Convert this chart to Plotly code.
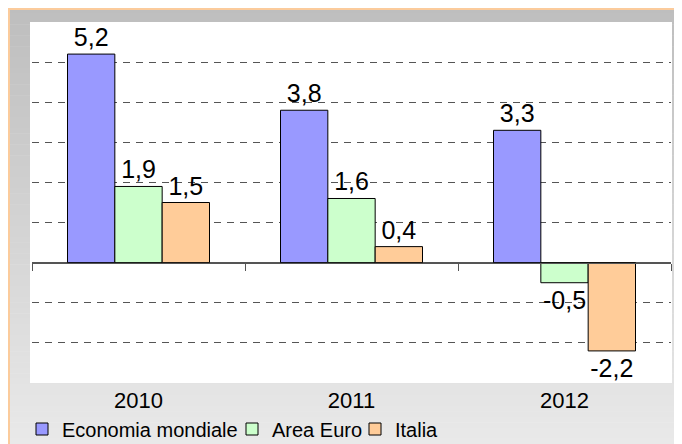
import plotly.graph_objects as go

# ---- data ----
categories = ["2010", "2011", "2012"]
economia_mondiale = [5.2, 3.8, 3.3]
area_euro = [1.9, 1.6, -0.5]
italia = [1.5, 0.4, -2.2]
series_names = ["Economia mondiale", "Area Euro", "Italia"]
series_colors = ["#9999ff", "#ccffcc", "#ffcc99"]
legend_widths = [165, 78, None]

# ---- geometry (pixels in the 682x444 window; page body has an 8px margin) ----
W, H = 682, 444
OFF = 8
ML, MR, MT, MB = 32, 11, 22, 61
PW, PH = W - ML - MR, H - MT - MB


def px_x(p):
    return (p - ML) / PW


def px_y(p):
    return 1 - (p - MT) / PH


FONT = "Liberation Sans, Arial, sans-serif"

fig = go.Figure()
for name, vals, col, lw in zip(series_names, [economia_mondiale, area_euro, italia],
                               series_colors, legend_widths):
    fig.add_trace(go.Bar(
        name=name, x=categories, y=vals,
        marker=dict(color=col, line=dict(color="#000000", width=1)),
        text=[f"{v:.1f}".replace(".", ",") for v in vals],
        textposition="outside", cliponaxis=False, constraintext="none",
        textfont=dict(size=25, color="#000000", family=FONT),
        hoverinfo="skip",
        legendwidth=lw,
    ))

# helper axis that draws the category axis line + boundary ticks at y = 0
fig.add_trace(go.Scatter(x=[], y=[], xaxis="x2", showlegend=False, hoverinfo="skip"))

shapes = []
# gray vertical gradient background
N = 80
top, bot = OFF, H
c0, c1 = 190, 233
for i in range(N):
    y0 = top + (bot - top) * i / N
    y1 = top + (bot - top) * (i + 1) / N + 0.5
    c = round(c0 + (c1 - c0) * i / (N - 1))
    shapes.append(dict(type="rect", xref="paper", yref="paper", layer="below",
                       x0=px_x(OFF), x1=px_x(W + 2), y0=px_y(y1), y1=px_y(y0),
                       fillcolor=f"rgb({c},{c},{c})", line=dict(width=0)))
# white plot panel
shapes.append(dict(type="rect", xref="paper", yref="paper", layer="below",
                   x0=px_x(30), x1=px_x(672), y0=px_y(383), y1=px_y(22),
                   fillcolor="#ffffff", line=dict(width=0)))
# light orange frame lines (top and left)
shapes.append(dict(type="line", xref="paper", yref="paper", layer="below",
                   x0=px_x(OFF), x1=px_x(W + 2), y0=px_y(OFF + 1), y1=px_y(OFF + 1),
                   line=dict(color="#fbcb9c", width=2)))
shapes.append(dict(type="line", xref="paper", yref="paper", layer="below",
                   x0=px_x(OFF + 1), x1=px_x(OFF + 1), y0=px_y(OFF), y1=px_y(H + 2),
                   line=dict(color="#fbcb9c", width=2)))

ymin, ymax = -3, 6
fig.update_layout(
    width=W - OFF, height=H - OFF,
    margin=dict(l=ML - OFF, r=MR, t=MT - OFF, b=MB, autoexpand=False),
    paper_bgcolor="#ffffff", plot_bgcolor="rgba(0,0,0,0)",
    barmode="group", bargap=1/3, bargroupgap=0,
    font=dict(family=FONT, color="#000000", size=20),
    shapes=shapes,
    showlegend=True,
    legend=dict(orientation="h", x=px_x(22), xanchor="left", y=px_y(429), yanchor="middle",
                bgcolor="rgba(0,0,0,0)", font=dict(size=20, family=FONT),
                traceorder="normal", itemclick=False),
    xaxis=dict(type="category", categoryorder="array", categoryarray=categories,
               showline=False, ticks="", showgrid=False, zeroline=False,
               tickfont=dict(size=22, family=FONT), ticklabelstandoff=2),
    xaxis2=dict(overlaying="x", anchor="free", position=(0 - ymin) / (ymax - ymin),
                range=[-0.5, len(categories) - 0.5],
                tickvals=[i - 0.5 for i in range(len(categories) + 1)],
                ticks="outside", ticklen=7, tickcolor="#555555", tickwidth=1,
                showticklabels=False, showgrid=False, zeroline=False,
                showline=True, linecolor="#555555", linewidth=1),
    yaxis=dict(range=[ymin, ymax], tickvals=[v for v in range(ymin + 1, ymax) if v != 0],
               showticklabels=False, showgrid=True, gridcolor="#555555", gridwidth=1,
               griddash="7px,6px", zeroline=True, zerolinecolor="#555555", zerolinewidth=1,
               showline=False, ticks=""),
)

fig.write_html("out.html")
